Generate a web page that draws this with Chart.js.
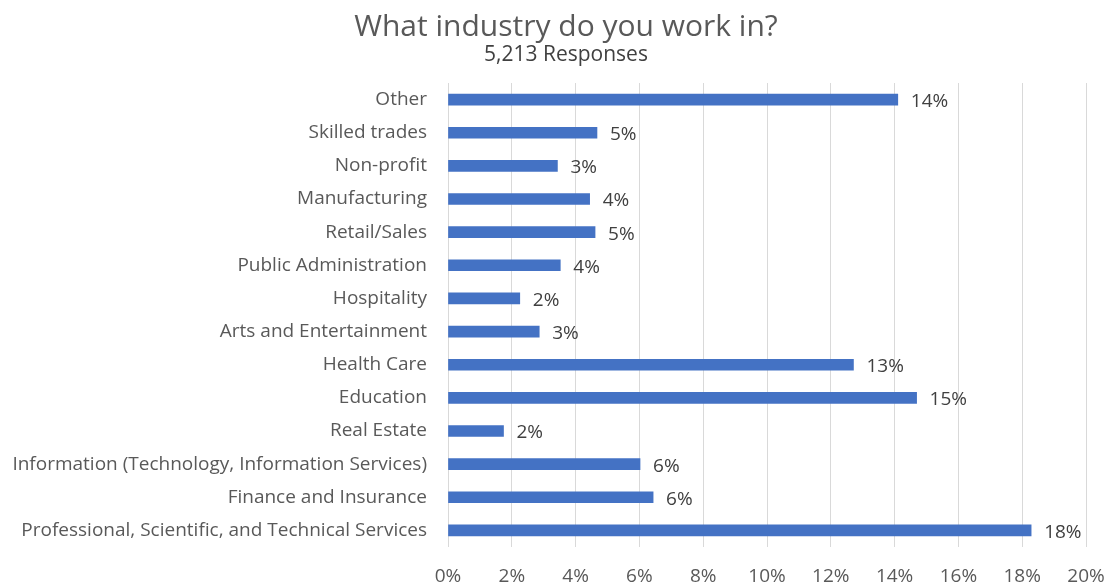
<!DOCTYPE html>
<html>
<head>
<meta charset="utf-8">
<script src="https://cdn.jsdelivr.net/npm/chart.js@4"></script>
<style>
  html, body { margin: 0; padding: 0; background: #fff; }
  #wrap { width: 1109px; height: 584px; }
</style>
</head>
<body>
<div id="wrap"><canvas id="chartIndustry"></canvas></div>
<script>
const industries = [
  "Other",
  "Skilled trades",
  "Non-profit",
  "Manufacturing",
  "Retail/Sales",
  "Public Administration",
  "Hospitality",
  "Arts and Entertainment",
  "Health Care",
  "Education",
  "Real Estate",
  "Information (Technology, Information Services)",
  "Finance and Insurance",
  "Professional, Scientific, and Technical Services"
];
const shares = [14.1, 4.67, 3.43, 4.44, 4.61, 3.52, 2.25, 2.86, 12.71, 14.69, 1.74, 6.02, 6.43, 18.28];
const xTicks = [0, 2, 4, 6, 8, 10, 12, 14, 16, 18, 20];

const FONT = "'Open Sans', 'Noto Sans', sans-serif";

// percent text to the right of each bar
const valueLabels = {
  id: "valueLabels",
  afterDatasetsDraw(chart) {
    const ctx = chart.ctx;
    const meta = chart.getDatasetMeta(0);
    ctx.save();
    ctx.font = "19px " + FONT;
    ctx.fillStyle = "#404040";
    ctx.textBaseline = "middle";
    ctx.textAlign = "left";
    meta.data.forEach((bar, i) => {
      ctx.fillText(Math.round(shares[i]) + "%", bar.x + 13, bar.y + 2);
    });
    ctx.restore();
  }
};

// nudge title + subtitle a bit to the right of the canvas centre
const titleShift = {
  id: "titleShift",
  afterLayout(chart) {
    chart.boxes.forEach((box) => {
      if (box.options && typeof box.options.text === "string") {
        box.left += 23;
        box.right += 23;
      }
    });
  }
};

document.addEventListener("DOMContentLoaded", () => {
  const ctx = document.getElementById("chartIndustry");

  new Chart(ctx, {
    type: "bar",
    data: {
      labels: industries,
      datasets: [{
        data: shares,
        backgroundColor: "#4472C4",
        barThickness: 11
      }]
    },
    options: {
      indexAxis: "y",
      responsive: true,
      maintainAspectRatio: false,
      animation: false,
      layout: { padding: { left: 0, right: 23, top: 0, bottom: 0 } },
      plugins: {
        legend: { display: false },
        tooltip: { enabled: false },
        title: {
          display: true,
          text: "What industry do you work in?",
          color: "#595959",
          font: { family: FONT, size: 30, weight: "normal", lineHeight: 1.2 },
          padding: { top: 9, bottom: 0 }
        },
        subtitle: {
          display: true,
          text: "5,213 Responses",
          color: "#404040",
          font: { family: FONT, size: 21, weight: "normal", lineHeight: 1.0 },
          padding: { top: 0, bottom: 17 }
        }
      },
      scales: {
        x: {
          min: 0,
          max: 20,
          afterBuildTicks: (scale) => {
            scale.ticks = xTicks.map(v => ({ value: v }));
          },
          afterFit: (scale) => { scale.height = 37; },
          ticks: {
            color: "#595959",
            font: { family: FONT, size: 19 },
            padding: 0,
            maxRotation: 0,
            callback: (v) => v + "%"
          },
          grid: {
            color: "#d9d9d9",
            lineWidth: 1,
            drawTicks: true,
            tickLength: 18,
            tickColor: "rgba(0,0,0,0)"
          },
          border: { display: false }
        },
        y: {
          afterFit: (scale) => { scale.width = 448; },
          ticks: {
            color: "#595959",
            font: { family: FONT, size: 19 },
            padding: 21,
            autoSkip: false
          },
          grid: { display: false, drawTicks: false },
          border: { display: false }
        }
      }
    },
    plugins: [valueLabels, titleShift]
  });
});
</script>
</body>
</html>
